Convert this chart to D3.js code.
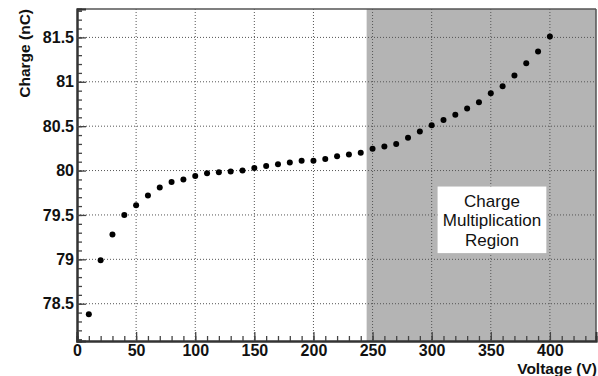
<!DOCTYPE html>
<html>
<head>
<meta charset="utf-8">
<script src="https://cdn.jsdelivr.net/npm/d3@7"></script>
<style>
  body { margin: 0; background: #fff; }
  svg { display: block; font-family: "Liberation Sans", Arial, Helvetica, sans-serif; }
</style>
</head>
<body>
<svg id="chart" width="598" height="376"></svg>
<script>
// voltage (V) and measured charge (nC)
const voltages = [10, 20, 30, 40, 50, 60, 70, 80, 90, 100,
                  110, 120, 130, 140, 150, 160, 170, 180, 190, 200,
                  210, 220, 230, 240, 250, 260, 270, 280, 290, 300,
                  310, 320, 330, 340, 350, 360, 370, 380, 390, 400];
const charges = [78.38, 78.99, 79.28, 79.50, 79.61, 79.72, 79.81, 79.87, 79.90, 79.94,
                 79.97, 79.98, 79.99, 80.00, 80.03, 80.05, 80.07, 80.09, 80.11, 80.11,
                 80.13, 80.16, 80.18, 80.20, 80.245, 80.27, 80.30, 80.37, 80.44, 80.51,
                 80.57, 80.63, 80.70, 80.77, 80.87, 80.95, 81.07, 81.21, 81.34, 81.51];

const xTicks = [0, 50, 100, 150, 200, 250, 300, 350, 400];
const yTicks = [78.5, 79, 79.5, 80, 80.5, 81, 81.5];
const regionStart = 245;
const regionLabel = ["Charge", "Multiplication", "Region"];

const margin = {left: 77, top: 9, right: 2, bottom: 35};
const width = 598 - margin.left - margin.right;
const height = 376 - margin.top - margin.bottom;

const svg = d3.select("#chart");
const g = svg.append("g").attr("transform", `translate(${margin.left},${margin.top})`);

const xScale = d3.scaleLinear().domain([0, 439]).range([0, width]);
const yScale = d3.scaleLinear().domain([78.08, 81.82]).range([height, 0]);

// shaded charge multiplication region
g.append("rect")
    .attr("x", xScale(regionStart))
    .attr("y", 0)
    .attr("width", width - xScale(regionStart))
    .attr("height", height)
    .attr("fill", "#b4b4b4");

// dotted grid
g.selectAll(".vgrid").data(xTicks.slice(1)).enter().append("line")
    .attr("x1", d => xScale(d)).attr("x2", d => xScale(d))
    .attr("y1", 0).attr("y2", height)
    .attr("stroke", "#555").attr("stroke-width", 1).attr("stroke-dasharray", "1,2");
g.selectAll(".hgrid").data(yTicks).enter().append("line")
    .attr("x1", 0).attr("x2", width)
    .attr("y1", d => yScale(d)).attr("y2", d => yScale(d))
    .attr("stroke", "#555").attr("stroke-width", 1).attr("stroke-dasharray", "1,2");

// text box
const box = g.append("g");
box.append("rect")
    .attr("x", xScale(305)).attr("y", yScale(79.82))
    .attr("width", xScale(397) - xScale(305))
    .attr("height", yScale(79.07) - yScale(79.82))
    .attr("fill", "#fff");
box.selectAll("text").data(regionLabel).enter().append("text")
    .attr("x", xScale(351))
    .attr("y", (d, i) => yScale(79.82) + 20 + i * 19.8)
    .attr("text-anchor", "middle")
    .attr("font-size", "17px")
    .attr("fill", "#111")
    .text(d => d);

// frame top / right
g.append("line").attr("x1", 0).attr("x2", width).attr("y1", 0).attr("y2", 0)
    .attr("stroke", "#555").attr("stroke-width", 1.5);
g.append("line").attr("x1", width).attr("x2", width).attr("y1", 0).attr("y2", height)
    .attr("stroke", "#555").attr("stroke-width", 1.5);

// axes
const xMinor = d3.axisBottom(xScale).tickValues(d3.range(0, 440, 10)).tickSize(-5).tickFormat("");
const yMinor = d3.axisLeft(yScale).tickValues(d3.range(781, 819).map(d => d / 10)).tickSize(-5).tickFormat("");
g.append("g").attr("transform", `translate(0,${height})`).call(xMinor);
g.append("g").call(yMinor);

const xAxis = d3.axisBottom(xScale).tickValues(xTicks).tickSize(-9).tickPadding(4).tickFormat(d => d);
const yAxis = d3.axisLeft(yScale).tickValues(yTicks).tickSize(-9).tickPadding(3).tickFormat(d => d);
g.append("g").attr("class", "axis").attr("transform", `translate(0,${height})`).call(xAxis);
g.append("g").attr("class", "axis").call(yAxis);

g.selectAll(".domain").attr("stroke", "#333").attr("stroke-width", 2);
g.selectAll(".tick line").attr("stroke", "#444").attr("stroke-width", 1.3);
g.selectAll(".axis text")
    .attr("font-size", "16px")
    .attr("font-weight", "bold")
    .attr("fill", "#111")
    .attr("font-family", "'Liberation Sans', Arial, sans-serif");

// data points
g.selectAll(".pt").data(voltages).enter().append("circle")
    .attr("cx", d => xScale(d))
    .attr("cy", (d, i) => yScale(charges[i]))
    .attr("r", 3)
    .attr("fill", "#000");

// axis titles
svg.append("text")
    .attr("x", 597).attr("y", 374)
    .attr("text-anchor", "end")
    .attr("font-size", "15.5px").attr("font-weight", "bold").attr("fill", "#111")
    .text("Voltage (V)");
svg.append("text")
    .attr("transform", `translate(30,${margin.top}) rotate(-90)`)
    .attr("text-anchor", "end")
    .attr("font-size", "15.5px").attr("font-weight", "bold").attr("fill", "#111")
    .text("Charge (nC)");
</script>
</body>
</html>
